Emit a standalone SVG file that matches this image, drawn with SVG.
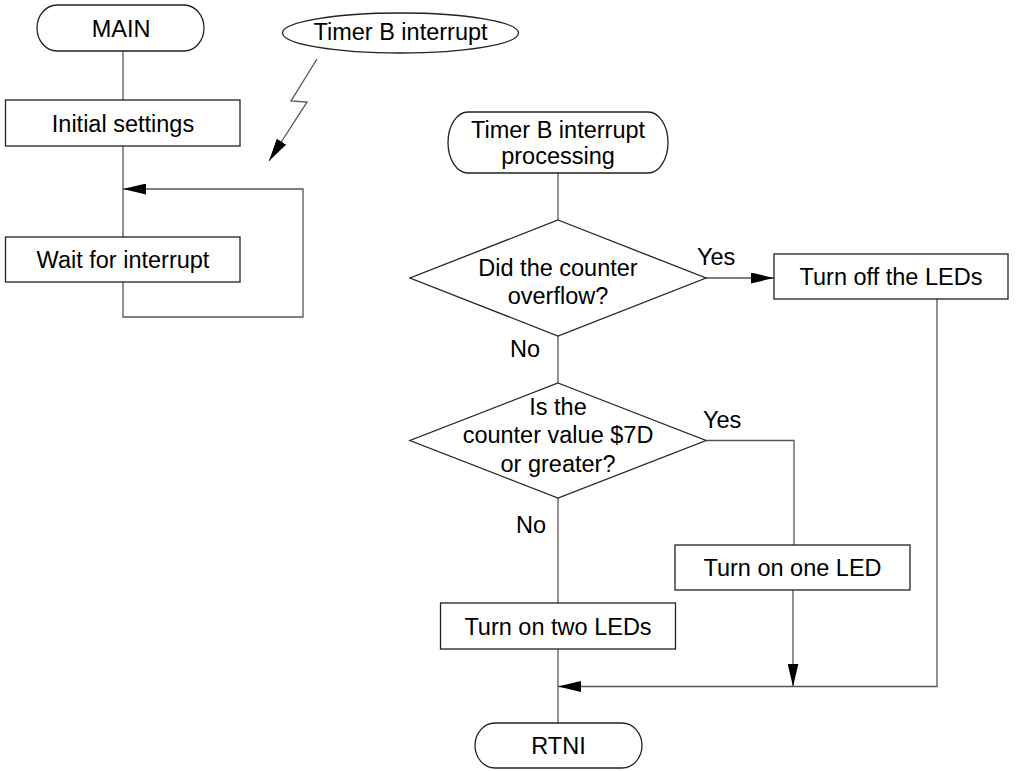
<svg xmlns="http://www.w3.org/2000/svg" width="1017" height="771" viewBox="0 0 1017 771">
<style>
  .shape { fill: #fff; stroke: #222; stroke-width: 1.3; }
  .conn { fill: none; stroke: #555; stroke-width: 1.3; }
  text { font-family: "Liberation Sans", Arial, sans-serif; font-size: 23.5px; fill: #000; text-anchor: middle; }
  .lbl { text-anchor: start; }
</style>
<defs>
  <marker id="arr" viewBox="0 0 23 11" refX="23" refY="5.5" markerWidth="23" markerHeight="11" markerUnits="userSpaceOnUse" orient="auto">
    <path d="M0,0 L23,5.5 L0,11 z" fill="#000"/>
  </marker>
</defs>
<rect width="1017" height="771" fill="#fff"/>
<g id="connectors">
  <line class="conn" x1="123" y1="51" x2="123" y2="100"/>
  <line class="conn" x1="123" y1="146" x2="123" y2="237"/>
  <polyline class="conn" points="123,282 123,317 303,317 303,189 123,189" marker-end="url(#arr)"/>
  <polyline class="conn" points="317,59 291,101 307,102 269,161" marker-end="url(#arr)" stroke="#222"/>
  <line class="conn" x1="558" y1="173" x2="558" y2="220"/>
  <line class="conn" x1="706" y1="278" x2="774" y2="278" marker-end="url(#arr)"/>
  <line class="conn" x1="558" y1="336" x2="558" y2="383"/>
  <polyline class="conn" points="706,440.5 794,440.5 794,545"/>
  <line class="conn" x1="558" y1="498" x2="558" y2="603"/>
  <line class="conn" x1="793" y1="590" x2="793" y2="686.5" marker-end="url(#arr)"/>
  <polyline class="conn" points="937,299 937,686.5 558,686.5" marker-end="url(#arr)"/>
  <line class="conn" x1="558" y1="649" x2="558" y2="723"/>
  <text class="lbl" x="697" y="265">Yes</text>
  <text class="lbl" x="510" y="357">No</text>
  <text class="lbl" x="703" y="428">Yes</text>
  <text class="lbl" x="516" y="533">No</text>
</g>
<g id="main">
  <path class="shape" d="M57,5 H184 A20,23 0 0 1 184,51 H57 A20,23 0 0 1 57,5 Z"/>
  <text x="121" y="36.5">MAIN</text>
</g>
<g id="timer-b-interrupt">
  <ellipse class="shape" cx="400.5" cy="33" rx="118" ry="20"/>
  <text x="400.5" y="40">Timer B interrupt</text>
</g>
<g id="initial-settings">
  <rect class="shape" x="5.5" y="100" width="234.5" height="46"/>
  <text x="123" y="131.5">Initial settings</text>
</g>
<g id="wait-for-interrupt">
  <rect class="shape" x="5.5" y="237" width="234.5" height="45"/>
  <text x="123" y="268">Wait for interrupt</text>
</g>
<g id="timer-b-processing">
  <path class="shape" d="M468,112 H648 A20,30.5 0 0 1 648,173 H468 A20,30.5 0 0 1 468,112 Z"/>
  <text x="558" y="138">Timer B interrupt</text>
  <text x="558" y="164">processing</text>
</g>
<g id="overflow-decision">
  <polygon class="shape" points="558,220 706,278 558,336 410,278"/>
  <text x="558" y="276">Did the counter</text>
  <text x="558" y="304">overflow?</text>
</g>
<g id="turn-off-leds">
  <rect class="shape" x="774" y="254" width="234" height="45"/>
  <text x="891" y="285">Turn off the LEDs</text>
</g>
<g id="value-decision">
  <polygon class="shape" points="558,383 706,440.5 558,498 410,440.5"/>
  <text x="558" y="415">Is the</text>
  <text x="558" y="443">counter value $7D</text>
  <text x="558" y="472">or greater?</text>
</g>
<g id="turn-on-one-led">
  <rect class="shape" x="675" y="545" width="235" height="45"/>
  <text x="792.5" y="576">Turn on one LED</text>
</g>
<g id="turn-on-two-leds">
  <rect class="shape" x="440.5" y="603" width="235" height="46"/>
  <text x="558" y="634.5">Turn on two LEDs</text>
</g>
<g id="rtni">
  <path class="shape" d="M495,723 H622 A20,22.5 0 0 1 622,768 H495 A20,22.5 0 0 1 495,723 Z"/>
  <text x="558.5" y="754">RTNI</text>
</g>
</svg>
